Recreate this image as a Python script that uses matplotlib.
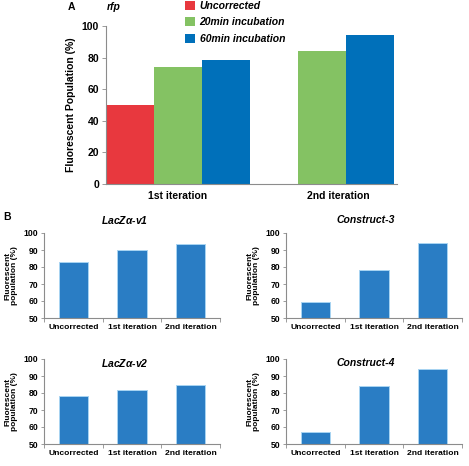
import matplotlib
matplotlib.use('Agg')
from matplotlib import pyplot as plt
from matplotlib.patches import Patch
import numpy as np

# panel A data
a_groups = ['1st iteration', '2nd iteration']
a_series = ['Uncorrected', '20min incubation', '60min incubation']
a_uncorrected = [50, None]
a_20min = [74, 84]
a_60min = [78.5, 94.5]
a_colors = ['#E8383E', '#84C263', '#0070BA']

# panel B data
b_categories = ['Uncorrected', '1st iteration', '2nd iteration']
b_titles = ['LacZ$\\alpha$-v1', 'Construct-3', 'LacZ$\\alpha$-v2', 'Construct-4']
lacz_v1 = [82.8, 90.2, 93.5]
construct_3 = [59.6, 78.3, 93.9]
lacz_v2 = [78.4, 82.0, 84.5]
construct_4 = [57.2, 84.3, 94.3]
b_blue = '#2A7DC4'

W, H = 469, 466
plt.rcParams['font.family'] = ['Liberation Sans', 'DejaVu Sans']
plt.rcParams['mathtext.fontset'] = 'custom'
plt.rcParams['mathtext.it'] = 'Liberation Sans:italic:bold'
plt.rcParams['mathtext.rm'] = 'Liberation Sans:bold'
grey = '#8c8c8c'

fig = plt.figure(figsize=(W / 100, H / 100), dpi=100)


def box(x0, x1, ytop, ybot):
    return [x0 / W, 1 - ybot / H, (x1 - x0) / W, (ybot - ytop) / H]


# ---------- panel A ----------
ax = fig.add_axes(box(106, 397, 26, 184))
bw = 1.0
group_pos = [1.5, 4.5]  # position of the middle series in each group
for gi in range(len(a_groups)):
    vals = [a_uncorrected[gi], a_20min[gi], a_60min[gi]]
    for si, v in enumerate(vals):
        if v is None:
            continue
        ax.bar(group_pos[gi] + (si - 1) * bw, v, width=bw, color=a_colors[si], edgecolor='none')
ax.set_xlim(0, 291 / 48)
ax.set_ylim(0, 100)
ax.set_yticks(np.arange(0, 101, 20))
ax.set_xticks([1.5, 4.85])
ax.set_xticklabels(a_groups, fontsize=7.5, fontweight='bold')
ax.tick_params(axis='x', length=0, pad=5)
ax.tick_params(axis='y', length=3, width=0.6, color=grey, labelsize=7.5, pad=2)
for lab in ax.get_yticklabels():
    lab.set_fontweight('bold')
for s in ['top', 'right']:
    ax.spines[s].set_visible(False)
for s in ['left', 'bottom']:
    ax.spines[s].set_color(grey)
    ax.spines[s].set_linewidth(0.8)
ax.set_ylabel('Fluorescent Population (%)', fontsize=7.5, fontweight='bold', labelpad=4)

handles = [Patch(facecolor=c, edgecolor='none') for c in a_colors]
leg = fig.legend(handles, a_series, loc='upper left', bbox_to_anchor=(185 / W, 1 - 1 / H),
                 frameon=False, handlelength=0.95, handleheight=0.95, handletextpad=0.45,
                 labelspacing=0.6, borderaxespad=0, borderpad=0,
                 prop={'size': 7.5, 'weight': 'bold', 'style': 'italic'})

fig.text(68 / W, 1 - 7 / H, 'A', fontsize=7.5, fontweight='bold', va='center')
fig.text(107 / W, 1 - 7 / H, 'rfp', fontsize=7.5, fontweight='bold', style='italic', va='center')

# ---------- panel B ----------
b_data = [lacz_v1, construct_3, lacz_v2, construct_4]
b_boxes = [box(44, 220, 233, 318), box(286, 462, 233, 318),
           box(44, 220, 359, 444), box(286, 462, 359, 444)]
title_pos = [(125, 220), (366, 220), (125, 363), (366, 363)]
ylabel_x = [11, 253, 11, 253]
ylabel_y = [276, 276, 402, 402]
xs = np.arange(len(b_categories))
for i in range(4):
    bx = fig.add_axes(b_boxes[i])
    bx.bar(xs, b_data[i], width=0.5, color=b_blue, edgecolor='#a8d4f2', linewidth=0.7)
    bx.set_xlim(-0.5, 2.5)
    bx.set_ylim(50, 100)
    bx.set_yticks(np.arange(50, 101, 10))
    bx.set_xticks([-0.5, 0.5, 1.5, 2.5])
    bx.set_xticklabels([])
    bx.set_xticks(xs, minor=True)
    bx.set_xticklabels(b_categories, minor=True, fontsize=6.1, fontweight='bold')
    bx.tick_params(axis='x', which='major', length=3, width=0.6, color=grey)
    bx.tick_params(axis='x', which='minor', length=0, pad=4)
    bx.tick_params(axis='y', length=2.5, width=0.6, color=grey, pad=1.5)
    for lab in bx.get_yticklabels():
        lab.set_fontweight('bold')
        lab.set_fontsize(6.2)
    for s in ['top', 'right']:
        bx.spines[s].set_visible(False)
    for s in ['left', 'bottom']:
        bx.spines[s].set_color(grey)
        bx.spines[s].set_linewidth(0.8)
    fig.text(title_pos[i][0] / W, 1 - title_pos[i][1] / H, b_titles[i], fontsize=7.5,
             fontweight='bold', style='italic', ha='center', va='center')
    fig.text(ylabel_x[i] / W, 1 - ylabel_y[i] / H, 'Fluorescent\npopulation (%)', fontsize=6,
             fontweight='bold', rotation=90, ha='center', va='center', linespacing=1.0)

fig.text(3 / W, 1 - 217 / H, 'B', fontsize=7.5, fontweight='bold', va='center')

fig.savefig('out.png', dpi=100)
